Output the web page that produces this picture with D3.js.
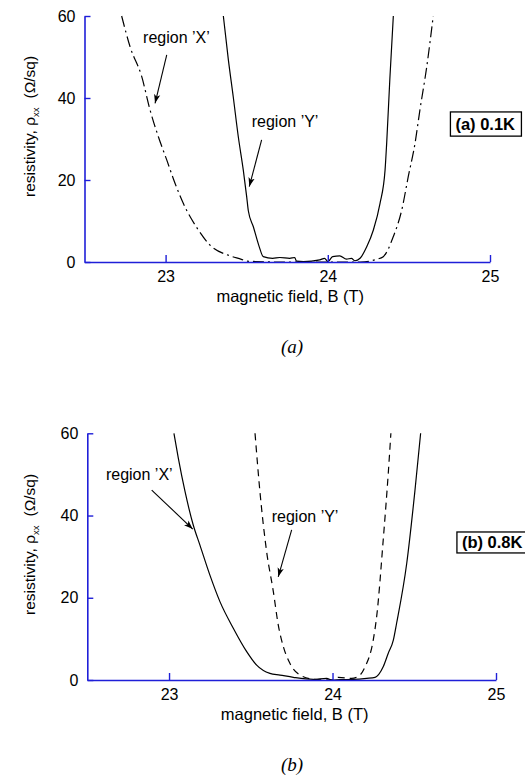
<!DOCTYPE html>
<html>
<head>
<meta charset="utf-8">
<script src="https://cdn.jsdelivr.net/npm/d3@7"></script>
<style>
  html, body { margin: 0; padding: 0; background: #fff; }
  svg { display: block; }
  .sans { font-family: "Liberation Sans", Arial, Helvetica, sans-serif; }
  .serif { font-family: "Liberation Serif", "Times New Roman", serif; font-style: italic; }
</style>
</head>
<body>
<svg id="chart" width="525" height="775" class="sans"></svg>
<script>
// ---------- data ----------
const bDomain = [22.5, 25];
const rhoDomain = [0, 60];
const bTicks = [23, 24, 25];
const rhoTicks = [0, 20, 40, 60];
const xTitle = "magnetic field, B (T)";

// panel (a) 0.1 K  : [B (T), rho_xx (ohm/sq)]
const a_regionY_solid = [
  [23.356,60],[23.387,49.3],[23.417,40.3],[23.448,30.6],[23.479,22.4],[23.5,15.9],[23.51,12.5],
  [23.541,8.6],[23.575,4],[23.602,1.3],
  [23.66,0.9],[23.704,1.1],[23.765,0.9],[23.796,1.1],[23.807,0.2],[23.85,0.1],[23.95,0.5],[23.98,0.9],
  [24.0,0.1],[24.03,1.3],[24.074,1.5],[24.115,0.7],[24.146,0.9],[24.167,0.3],[24.199,0.9],[24.24,3.7],
  [24.281,7.8],[24.322,14.3],[24.353,22.4],[24.363,29],[24.383,45],[24.404,60]
];
const a_regionX_dashdot = [
  [22.729,60],[22.781,52.5],[22.853,45.2],[22.904,37.1],[22.955,30.6],[23.007,24.9],[23.058,19.2],
  [23.109,14.3],[23.202,7.8],[23.274,4.1],[23.397,1.5],[23.467,0.65],[23.5,0.2],[23.7,0],[24.0,0],
  [24.2,0],[24.301,0.65],[24.342,1.3],[24.404,6.2],[24.456,12.7],[24.496,20.8],[24.538,29],
  [24.568,37.1],[24.61,47.6],[24.65,60]
];

// panel (b) 0.8 K
const b_regionX_solid = [
  [23.03,60],[23.057,53.9],[23.098,45.8],[23.148,37.7],[23.189,32.8],[23.25,25.5],[23.312,19],
  [23.393,12.6],[23.475,6.9],[23.536,3.6],[23.617,1.6],[23.679,1.2],[23.76,0.65],[23.882,0.15],
  [23.964,0.4],[23.997,0],[24.046,0.1],[24.127,0.15],[24.209,0.4],[24.26,0.65],[24.31,3.2],
  [24.341,6.5],[24.372,9.7],[24.392,13.8],[24.454,28.4],[24.504,46],[24.539,60]
];
const b_regionY_dashed = [
  [23.526,60],[23.556,45.8],[23.597,31.2],[23.638,21.5],[23.668,13.4],[23.7,8],[23.74,4],
  [23.802,1.2],[23.882,0.2],[23.99,0],[24.035,0.65],[24.117,0.4],[24.168,1.2],[24.199,3.2],
  [24.249,9.7],[24.27,15.4],[24.31,34],[24.341,50.3],[24.357,60]
];

// annotations: label text position and arrow (from -> to), in data units
const annotationsA = [
  { text: "region \u2019X\u2019", at: [22.861, 53.4], from: [23.007, 50.5], to: [22.935, 38.7] },
  { text: "region \u2019Y\u2019", at: [23.531, 33.0], from: [23.592, 29.8], to: [23.516, 18.4] }
];
const annotationsB = [
  { text: "region \u2019X\u2019", at: [22.614, 48.6], from: [22.894, 46.2], to: [23.145, 36.7] },
  { text: "region \u2019Y\u2019", at: [23.628, 38.4], from: [23.750, 36.5], to: [23.668, 25.1] }
];

// ---------- layout ----------
const panels = [
  { id: "a", xRange: [84.5, 490], yRange: [262, 16],
    series: [ { data: a_regionY_solid, dash: null }, { data: a_regionX_dashdot, dash: "11,4,2,4" } ],
    ann: annotationsA, tag: "(a) 0.1K", tagBox: [24.756, 36.6, 30.7], caption: "(a)" },
  { id: "b", xRange: [87.3, 496], yRange: [680, 433.3],
    series: [ { data: b_regionX_solid, dash: null }, { data: b_regionY_dashed, dash: "7,5" } ],
    ann: annotationsB, tag: "(b) 0.8K", tagBox: [24.761, 36.0, 30.9], caption: "(b)" }
];

const svg = d3.select("#chart");
const axisColor = "#1f1fd8";
const defs = svg.append("defs");

defs.append("marker")
  .attr("id", "arrow")
  .attr("viewBox", "0 0 10 10")
  .attr("refX", 10).attr("refY", 5)
  .attr("markerWidth", 9).attr("markerHeight", 9)
  .attr("markerUnits", "userSpaceOnUse")
  .attr("orient", "auto")
  .append("path").attr("d", "M0,1.5 L10,5 L0,8.5 L2.5,5 Z").attr("fill", "#000");

panels.forEach(p => {
  const x = d3.scaleLinear().domain(bDomain).range(p.xRange);
  const y = d3.scaleLinear().domain(rhoDomain).range(p.yRange);
  const g = svg.append("g");

  const clipId = "clip-" + p.id;
  defs.append("clipPath").attr("id", clipId)
    .append("rect")
    .attr("x", p.xRange[0]).attr("y", p.yRange[1] - 1)
    .attr("width", p.xRange[1] - p.xRange[0]).attr("height", p.yRange[0] - p.yRange[1] + 1);

  // curves
  const line = d3.line().x(d => x(d[0])).y(d => y(d[1])).curve(d3.curveMonotoneX);
  p.series.forEach(s => {
    g.append("path")
      .attr("clip-path", `url(#${clipId})`)
      .attr("d", line(s.data))
      .attr("fill", "none")
      .attr("stroke", "#000")
      .attr("stroke-width", 1.2)
      .attr("stroke-dasharray", s.dash);
  });

  // x axis
  const xAxis = d3.axisBottom(x).tickValues(bTicks).tickSizeInner(-7).tickSizeOuter(0).tickFormat(d3.format("d"));
  const gx = g.append("g").attr("transform", `translate(0,${p.yRange[0]})`).call(xAxis);
  gx.attr("font-family", null).attr("font-size", null);
  gx.select(".domain").attr("stroke", axisColor).attr("stroke-width", 1.6);
  gx.selectAll(".tick line").attr("stroke", axisColor).attr("stroke-width", 1.4);
  gx.selectAll(".tick text").attr("font-size", 16).attr("fill", "#000")
    .attr("dy", null).attr("y", 20);

  // y axis
  const yAxis = d3.axisLeft(y).tickValues(rhoTicks).tickSizeInner(-6).tickSizeOuter(0).tickPadding(9);
  const gy = g.append("g").attr("transform", `translate(${p.xRange[0]},0)`).call(yAxis);
  gy.attr("font-family", null).attr("font-size", null);
  gy.select(".domain").attr("stroke", axisColor).attr("stroke-width", 1.6);
  gy.selectAll(".tick line").attr("stroke", axisColor).attr("stroke-width", 1.4);
  gy.selectAll(".tick text").attr("font-size", 16).attr("fill", "#000");

  // x title
  g.append("text")
    .attr("x", (p.xRange[0] + p.xRange[1]) / 2 + 3)
    .attr("y", p.yRange[0] + 40)
    .attr("text-anchor", "middle")
    .attr("font-size", 16.5)
    .text(xTitle);

  // y title
  const yt = g.append("text")
    .attr("transform", `translate(35,${p.yRange[0] - 65}) rotate(-90)`)
    .attr("text-anchor", "start")
    .attr("font-size", 15.5);
  yt.append("tspan").text("resistivity, \u03c1");
  yt.append("tspan").attr("font-size", 9.5).attr("dy", 4).text("xx");
  yt.append("tspan").attr("dy", -4).attr("dx", 9).text("(\u03a9/sq)");

  // annotations
  p.ann.forEach(a => {
    g.append("text")
      .attr("x", x(a.at[0])).attr("y", y(a.at[1]))
      .attr("font-size", 16)
      .text(a.text);
    g.append("line")
      .attr("x1", x(a.from[0])).attr("y1", y(a.from[1]))
      .attr("x2", x(a.to[0])).attr("y2", y(a.to[1]))
      .attr("stroke", "#000").attr("stroke-width", 1.1)
      .attr("marker-end", "url(#arrow)");
  });

  // tag box
  const bx = x(p.tagBox[0]), by0 = y(p.tagBox[1]), by1 = y(p.tagBox[2]);
  g.append("rect")
    .attr("x", bx).attr("y", by0)
    .attr("width", 71).attr("height", by1 - by0)
    .attr("fill", "#fff").attr("stroke", "#000").attr("stroke-width", 1.3);
  g.append("text")
    .attr("x", bx + 5).attr("y", (by0 + by1) / 2 + 6)
    .attr("font-size", 16.5).attr("font-weight", "bold")
    .text(p.tag);

  // caption
  g.append("text")
    .attr("class", "serif")
    .attr("x", 292).attr("y", p.yRange[0] + 91)
    .attr("text-anchor", "middle")
    .attr("font-size", 19)
    .text(p.caption);
});
</script>
</body>
</html>
